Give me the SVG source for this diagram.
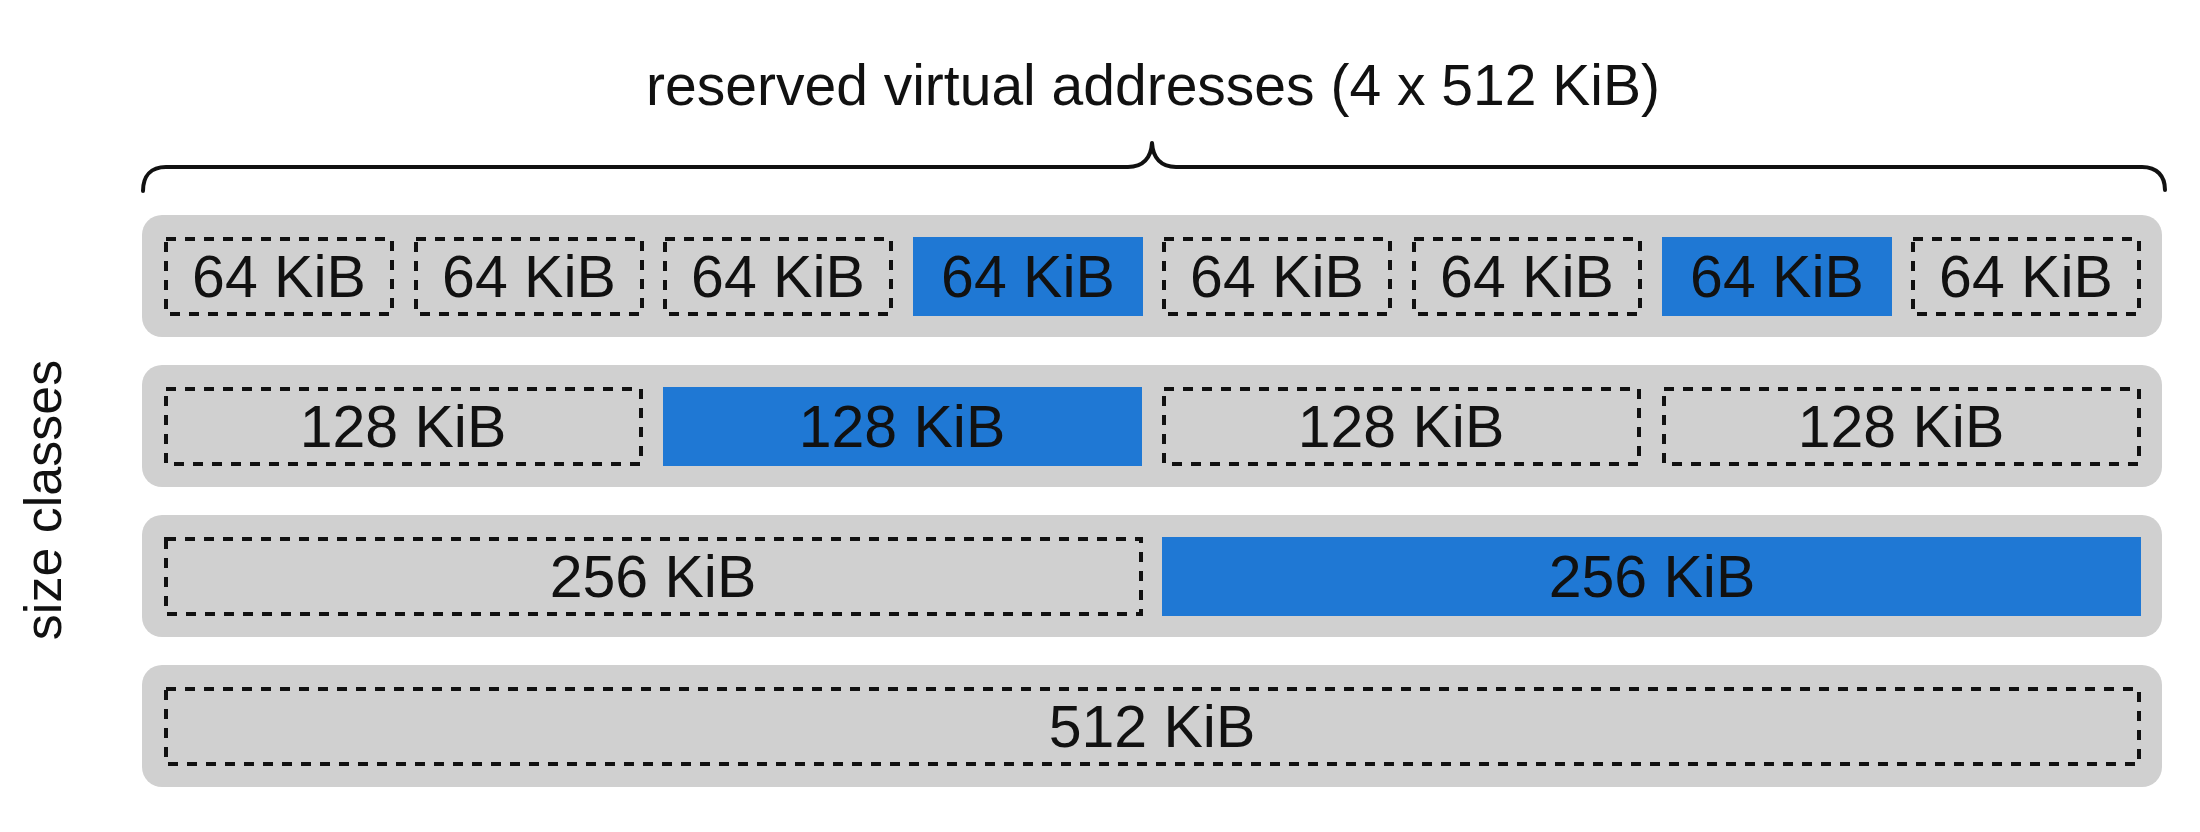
<svg xmlns="http://www.w3.org/2000/svg" width="2200" height="832" viewBox="0 0 2200 832">
<style>
.bar{fill:#d0d0d0}
.slot{fill:none;stroke:#111;stroke-width:4;stroke-dasharray:10 9}
.used{fill:#1f78d4}
.lbl{font-family:"Liberation Sans",Arial,sans-serif;font-size:59px;fill:#111;text-anchor:middle}
.title{font-family:"Liberation Sans",Arial,sans-serif;font-size:57px;fill:#111;text-anchor:middle}
.brace{fill:none;stroke:#111;stroke-width:4;stroke-linecap:round;stroke-linejoin:round}
</style>
<rect width="2200" height="832" fill="#fff"/>
<g id="title">
<text class="title" x="1153" y="105">reserved virtual addresses (4 x 512 KiB)</text>
</g>
<g id="connectors">
<path class="brace" d="M143,191 C143,176 151,167 166,167 H1128 C1143,167 1151,158 1152,143 C1153,158 1161,167 1176,167 H2142 C2157,167 2165,176 2165,190"/>
</g>
<g id="size-classes-label">
<text class="lbl" font-size="52" style="font-size:52px" transform="translate(61,500) rotate(-90)" x="0" y="0">size classes</text>
</g>
<g id="row-64">
<rect class="bar" x="142" y="215" width="2020" height="122" rx="20"/>
<rect class="slot" x="166" y="239" width="226" height="75"/>
<text class="lbl" x="279" y="297">64 KiB</text>
<rect class="slot" x="416" y="239" width="226" height="75"/>
<text class="lbl" x="529" y="297">64 KiB</text>
<rect class="slot" x="665" y="239" width="226" height="75"/>
<text class="lbl" x="778" y="297">64 KiB</text>
<rect class="used" x="913" y="237" width="230" height="79"/>
<text class="lbl" x="1028" y="297">64 KiB</text>
<rect class="slot" x="1164" y="239" width="226" height="75"/>
<text class="lbl" x="1277" y="297">64 KiB</text>
<rect class="slot" x="1414" y="239" width="226" height="75"/>
<text class="lbl" x="1527" y="297">64 KiB</text>
<rect class="used" x="1662" y="237" width="230" height="79"/>
<text class="lbl" x="1777" y="297">64 KiB</text>
<rect class="slot" x="1913" y="239" width="226" height="75"/>
<text class="lbl" x="2026" y="297">64 KiB</text>
</g>
<g id="row-128">
<rect class="bar" x="142" y="365" width="2020" height="122" rx="20"/>
<rect class="slot" x="166" y="389" width="475" height="75"/>
<text class="lbl" x="403" y="447">128 KiB</text>
<rect class="used" x="663" y="387" width="479" height="79"/>
<text class="lbl" x="902" y="447">128 KiB</text>
<rect class="slot" x="1164" y="389" width="475" height="75"/>
<text class="lbl" x="1401" y="447">128 KiB</text>
<rect class="slot" x="1664" y="389" width="475" height="75"/>
<text class="lbl" x="1901" y="447">128 KiB</text>
</g>
<g id="row-256">
<rect class="bar" x="142" y="515" width="2020" height="122" rx="20"/>
<rect class="slot" x="166" y="539" width="975" height="75"/>
<text class="lbl" x="653" y="597">256 KiB</text>
<rect class="used" x="1162" y="537" width="979" height="79"/>
<text class="lbl" x="1652" y="597">256 KiB</text>
</g>
<g id="row-512">
<rect class="bar" x="142" y="665" width="2020" height="122" rx="20"/>
<rect class="slot" x="166" y="689" width="1973" height="75"/>
<text class="lbl" x="1152" y="747">512 KiB</text>
</g>
</svg>
